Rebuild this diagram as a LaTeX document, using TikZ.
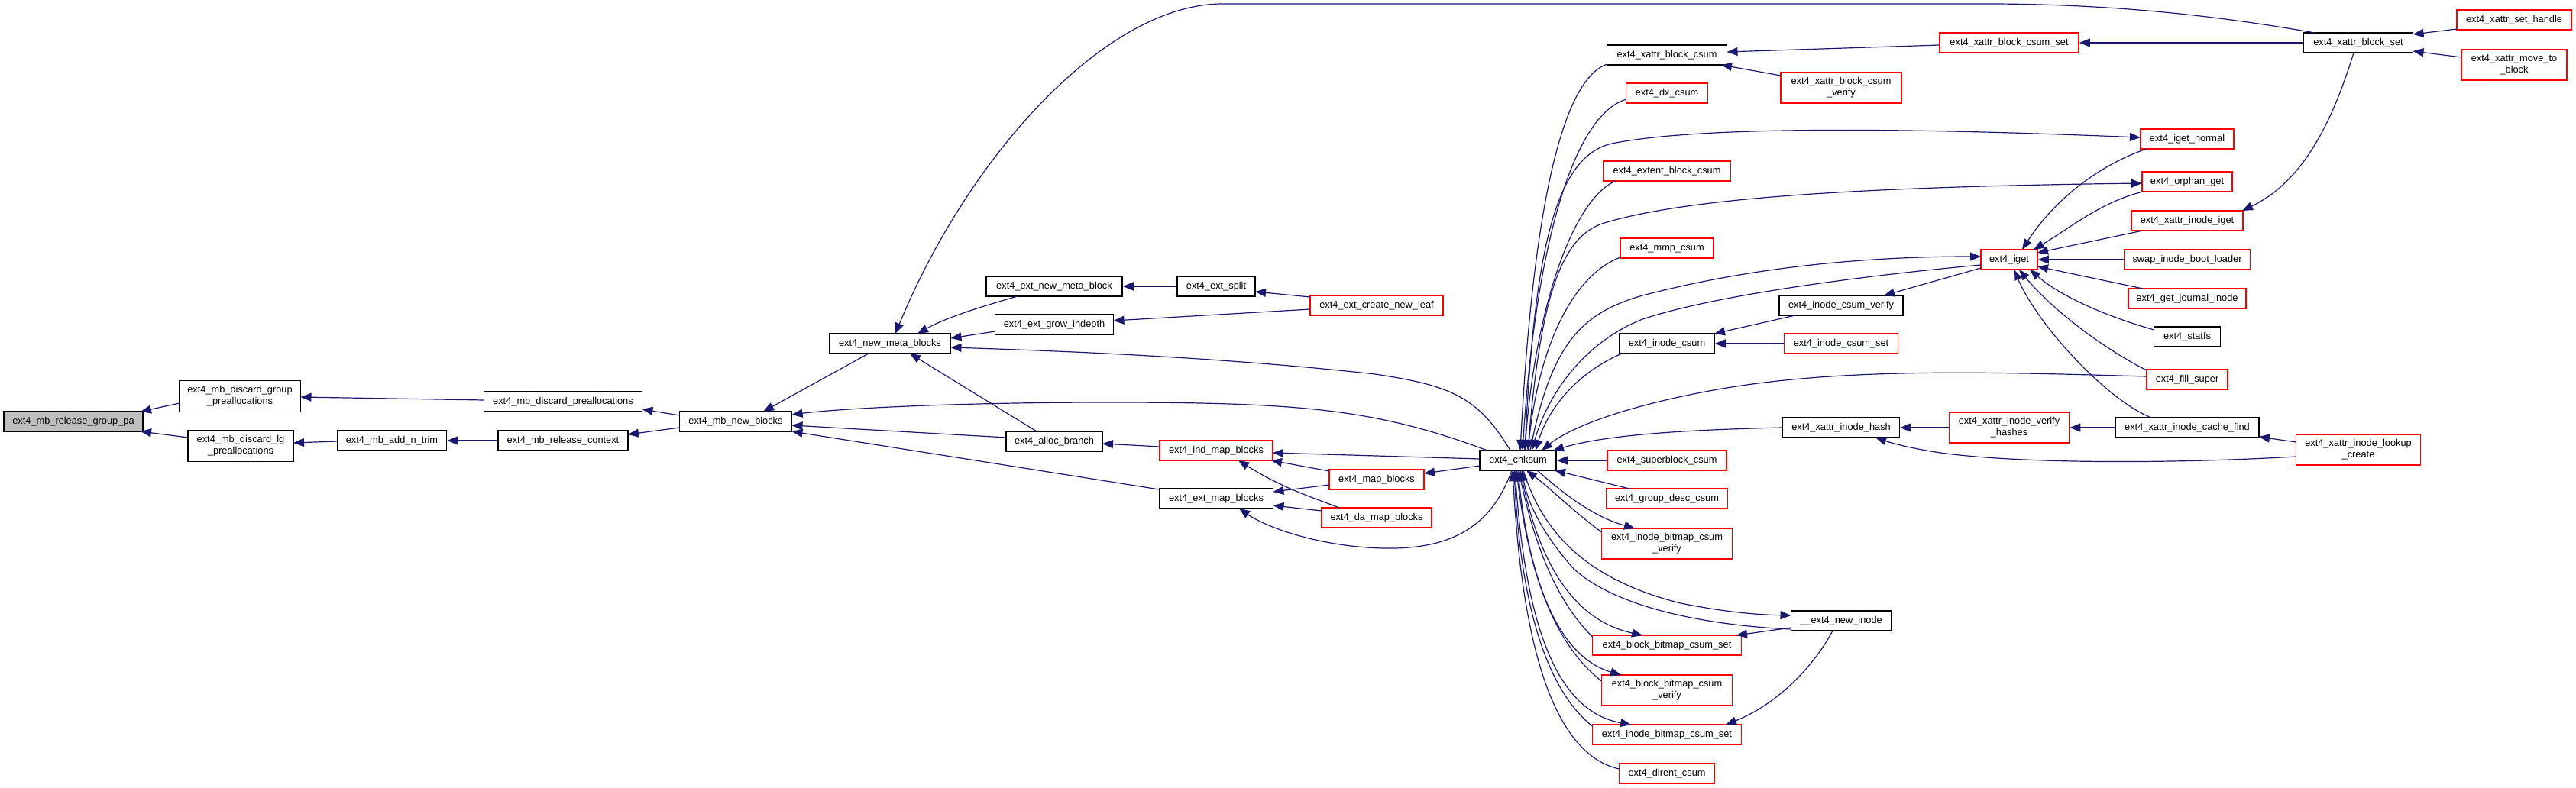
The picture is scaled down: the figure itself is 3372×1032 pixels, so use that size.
\documentclass[tikz,border=0pt]{standalone}
\usepackage{fontspec}
\setmainfont{Liberation Sans}
\usetikzlibrary{arrows.meta}
\definecolor{edgeblue}{HTML}{191970}
\definecolor{gfill}{HTML}{BFBFBF}
\definecolor{rborder}{HTML}{FF0000}
\newcommand{\fsz}{\fontsize{12.8}{15}\selectfont}
\tikzset{
  fn/.style={draw=black, line width=1.5pt, fill=white, inner sep=0pt, minimum height=26pt, align=center, font=\fsz},
  fnr/.style={fn, draw=rborder},
  ce/.style={draw=edgeblue, line width=1.2pt, -{Triangle[length=14pt,width=11pt,fill=edgeblue]}},
}
\begin{document}
\begin{tikzpicture}[x=1pt,y=-1pt]
\useasboundingbox (0,0) rectangle (3372,1032);
% nodes
\node[fn, fill=gfill, minimum width=182pt] (rgpa) at (96,552) {ext4\_mb\_release\_group\_pa};
\node[fn, minimum width=159pt, minimum height=41pt] (dgp) at (314,519) {ext4\_mb\_discard\_group\\\_preallocations};
\node[fn, minimum width=138pt, minimum height=41pt] (dlg) at (315,584) {ext4\_mb\_discard\_lg\\\_preallocations};
\node[fn, minimum width=143pt] (ant) at (513,577) {ext4\_mb\_add\_n\_trim};
\node[fn, minimum width=207pt] (dp) at (737,526) {ext4\_mb\_discard\_preallocations};
\node[fn, minimum width=170pt] (rc) at (737,577) {ext4\_mb\_release\_context};
\node[fn, minimum width=147pt] (nb) at (963,552) {ext4\_mb\_new\_blocks};
\node[fn, minimum width=159pt] (nmb) at (1165,450) {ext4\_new\_meta\_blocks};
\node[fn, minimum width=178pt] (enmb) at (1380,375) {ext4\_ext\_new\_meta\_block};
\node[fn, minimum width=102pt] (split) at (1592,375) {ext4\_ext\_split};
\node[fnr, minimum width=174pt] (cnl) at (1802,400) {ext4\_ext\_create\_new\_leaf};
\node[fn, minimum width=155pt] (gi) at (1380,425) {ext4\_ext\_grow\_indepth};
\node[fn, minimum width=126pt] (ab) at (1380,578) {ext4\_alloc\_branch};
\node[fnr, minimum width=148pt] (imb) at (1592,590) {ext4\_ind\_map\_blocks};
\node[fnr, minimum width=124pt] (mapb) at (1802,628) {ext4\_map\_blocks};
\node[fn, minimum width=149pt] (emb) at (1592,653) {ext4\_ext\_map\_blocks};
\node[fnr, minimum width=144pt] (damb) at (1802,678) {ext4\_da\_map\_blocks};
\node[fn, minimum width=100pt] (chk) at (1987,603) {ext4\_chksum};
\node[fn, minimum width=157pt] (xbc) at (2182,72) {ext4\_xattr\_block\_csum};
\node[fnr, minimum width=182pt] (xbcs) at (2630,56) {ext4\_xattr\_block\_csum\_set};
\node[fnr, minimum width=158pt, minimum height=40pt] (xbcv) at (2410,115) {ext4\_xattr\_block\_csum\\\_verify};
\node[fnr, minimum width=107pt] (dx) at (2182,122) {ext4\_dx\_csum};
\node[fnr, minimum width=167pt] (ebc) at (2182,224) {ext4\_extent\_block\_csum};
\node[fnr, minimum width=122pt] (mmp) at (2182,325) {ext4\_mmp\_csum};
\node[fnr, minimum width=74pt] (iget) at (2630,340) {ext4\_iget};
\node[fn, minimum width=162pt] (icv) at (2410,400) {ext4\_inode\_csum\_verify};
\node[fn, minimum width=124pt] (ic) at (2182,450) {ext4\_inode\_csum};
\node[fnr, minimum width=149pt] (ics) at (2410,450) {ext4\_inode\_csum\_set};
\node[fnr, minimum width=150pt] (xsh) at (3291,26) {ext4\_xattr\_set\_handle};
\node[fn, minimum width=143pt] (xbs) at (3087,56) {ext4\_xattr\_block\_set};
\node[fnr, minimum width=138pt, minimum height=40pt] (xmtb) at (3291,85) {ext4\_xattr\_move\_to\\\_block};
\node[fnr, minimum width=122pt] (ign) at (2863,182) {ext4\_iget\_normal};
\node[fnr, minimum width=118pt] (og) at (2863,238) {ext4\_orphan\_get};
\node[fnr, minimum width=146pt] (xii) at (2863,289) {ext4\_xattr\_inode\_iget};
\node[fnr, minimum width=165pt] (sibl) at (2863,340) {swap\_inode\_boot\_loader};
\node[fnr, minimum width=154pt] (gji) at (2863,391) {ext4\_get\_journal\_inode};
\node[fn, minimum width=87pt] (sf) at (2863,441) {ext4\_statfs};
\node[fnr, minimum width=106pt] (fs) at (2863,497) {ext4\_fill\_super};
\node[fn, minimum width=153pt] (xih) at (2410,560) {ext4\_xattr\_inode\_hash};
\node[fnr, minimum width=157pt, minimum height=40pt] (xivh) at (2630,560) {ext4\_xattr\_inode\_verify\\\_hashes};
\node[fn, minimum width=188pt] (xicf) at (2863,560) {ext4\_xattr\_inode\_cache\_find};
\node[fnr, minimum width=163pt, minimum height=40pt] (xilc) at (3087,589) {ext4\_xattr\_inode\_lookup\\\_create};
\node[fnr, minimum width=156pt] (sbc) at (2182,603) {ext4\_superblock\_csum};
\node[fnr, minimum width=159pt] (gdc) at (2182,653) {ext4\_group\_desc\_csum};
\node[fnr, minimum width=171pt, minimum height=40pt] (ibcv) at (2182,712) {ext4\_inode\_bitmap\_csum\\\_verify};
\node[fn, minimum width=131pt] (ni) at (2410,813) {\_\_ext4\_new\_inode};
\node[fnr, minimum width=195pt] (bbcs) at (2182,845) {ext4\_block\_bitmap\_csum\_set};
\node[fnr, minimum width=171pt, minimum height=40pt] (bbcv) at (2182,904) {ext4\_block\_bitmap\_csum\\\_verify};
\node[fnr, minimum width=195pt] (ibcs) at (2182,962) {ext4\_inode\_bitmap\_csum\_set};
\node[fnr, minimum width=125pt] (dc) at (2182,1013) {ext4\_dirent\_csum};
% left chain
\draw[ce] ([shift={(-79,9)}]dgp.center) -- ([shift={(88,-13)}]rgpa.center);
\draw[ce] ([shift={(-69,-11)}]dlg.center) -- ([shift={(88,13)}]rgpa.center);
\draw[ce] ([shift={(-103.5,-2)}]dp.center) -- ([shift={(79.5,1)}]dgp.center);
\draw[ce] ([shift={(-71.5,1)}]ant.center) -- ([shift={(69,-4)}]dlg.center);
\draw[ce] (rc.west) -- (ant.east);
\draw[ce] ([shift={(-73.5,-8)}]nb.center) -- ([shift={(103.5,10)}]dp.center);
\draw[ce] ([shift={(-73.5,8)}]nb.center) -- ([shift={(85,-8)}]rc.center);
\draw[ce] ([shift={(-28,13)}]nmb.center) -- ([shift={(36,-13)}]nb.center);
\draw[ce] ([shift={(-40,-13)}]chk.center) .. controls (1800,535) and (1700,527) .. (1450,527) .. controls (1250,527) and (1100,535) .. ([shift={(73.5,-9)}]nb.center);
\draw[ce] ([shift={(-63,-5)}]ab.center) -- ([shift={(73.5,5)}]nb.center);
\draw[ce] ([shift={(-74.5,-12)}]emb.center) -- ([shift={(73.5,13)}]nb.center);
\draw[ce] ([shift={(-57,-13)}]xbs.center) .. controls (2900,20) and (2760,5) .. (2600,5) -- (1600,5) .. controls (1450,5) and (1270,200) .. ([shift={(7,-13)}]nmb.center);
\draw[ce] ([shift={(-48,13)}]enmb.center) .. controls (1290,400) and (1240,415) .. ([shift={(36,-13)}]nmb.center);
\draw[ce] ([shift={(-77.5,9)}]gi.center) -- ([shift={(79.5,-7)}]nmb.center);
\draw[ce] ([shift={(-10,-13)}]chk.center) .. controls (1935,520) and (1900,505) .. (1800,490) .. controls (1600,468) and (1400,460) .. ([shift={(79.5,5)}]nmb.center);
\draw[ce] ([shift={(-23,-13)}]ab.center) -- ([shift={(26,13)}]nmb.center);
\draw[ce] (split.west) -- (enmb.east);
\draw[ce] ([shift={(-87,-11)}]cnl.center) -- ([shift={(51,7)}]split.center);
\draw[ce] ([shift={(-87,5)}]cnl.center) -- ([shift={(77.5,-5)}]gi.center);
\draw[ce] ([shift={(-74,-5)}]imb.center) -- ([shift={(63,3)}]ab.center);
\draw[ce] ([shift={(-50,-2)}]chk.center) -- ([shift={(74,3)}]imb.center);
\draw[ce] ([shift={(-62,-11)}]mapb.center) -- ([shift={(72,13)}]imb.center);
\draw[ce] ([shift={(-49,-13)}]damb.center) .. controls (1720,652) and (1680,640) .. ([shift={(29,13)}]imb.center);
\draw[ce] ([shift={(-50,7)}]chk.center) -- ([shift={(62,-8)}]mapb.center);
\draw[ce] ([shift={(-62,7)}]mapb.center) -- ([shift={(74.5,-9)}]emb.center);
\draw[ce] ([shift={(-72,-9)}]damb.center) -- ([shift={(74.5,9)}]emb.center);
\draw[ce] ([shift={(-8,13)}]chk.center) .. controls (1952,690) and (1900,720) .. (1810,718) .. controls (1730,716) and (1660,692) .. ([shift={(30,13)}]emb.center);
% into chk from upper right
\draw[ce] ([shift={(-78,12)}]xbc.center) .. controls (2040,105) and (2005,300) .. ([shift={(3,-13)}]chk.center);
\draw[ce] ([shift={(-53,8)}]dx.center) .. controls (2060,150) and (2010,320) .. ([shift={(6,-13)}]chk.center);
\draw[ce] ([shift={(9,-13)}]chk.center) .. controls (2008,330) and (2035,205) .. (2110,188) .. controls (2250,160) and (2600,172) .. ([shift={(-61,-2)}]ign.center);
\draw[ce] ([shift={(-67,13)}]ebc.center) .. controls (2060,260) and (2010,400) .. ([shift={(9,-13)}]chk.center);
\draw[ce] ([shift={(13,-13)}]chk.center) .. controls (2015,400) and (2040,310) .. (2100,292) .. controls (2200,262) and (2400,245) .. ([shift={(-59,2)}]og.center);
\draw[ce] ([shift={(-61,12)}]mmp.center) .. controls (2060,360) and (2015,450) .. ([shift={(13,-13)}]chk.center);
\draw[ce] ([shift={(16,-13)}]chk.center) .. controls (2030,450) and (2070,410) .. (2150,387) .. controls (2300,348) and (2450,336) .. ([shift={(-37,-4)}]iget.center);
\draw[ce] ([shift={(-37,7)}]iget.center) .. controls (2450,360) and (2250,385) .. (2150,418) .. controls (2070,450) and (2025,520) .. ([shift={(18,-13)}]chk.center);
\draw[ce] ([shift={(-59,13)}]ic.center) .. controls (2060,490) and (2025,540) .. ([shift={(23,-13)}]chk.center);
\draw[ce] ([shift={(-53,-4)}]fs.center) .. controls (2600,487) and (2420,482) .. (2260,508) .. controls (2130,530) and (2055,560) .. ([shift={(31,-13)}]chk.center);
\draw[ce] ([shift={(-76.5,0)}]xih.center) .. controls (2200,563) and (2100,570) .. ([shift={(46,-13)}]chk.center);
\draw[ce] (sbc.west) -- (chk.east);
\draw[ce] ([shift={(-49,-13)}]gdc.center) -- ([shift={(48,13)}]chk.center);
% below chk
\draw[ce] ([shift={(25,13)}]chk.center) .. controls (2040,640) and (2080,675) .. ([shift={(-42,-20)}]ibcv.center);
\draw[ce] ([shift={(-85.5,-15)}]ibcv.center) .. controls (2060,670) and (2030,640) .. ([shift={(11,13)}]chk.center);
\draw[ce] ([shift={(7,13)}]chk.center) .. controls (2020,700) and (2080,760) .. (2200,790) .. controls (2260,802) and (2300,805) .. ([shift={(-65.5,-7)}]ni.center);
\draw[ce] ([shift={(-65.5,11)}]ni.center) .. controls (2250,820) and (2120,800) .. (2060,745) .. controls (2020,700) and (2000,660) .. ([shift={(5,13)}]chk.center);
\draw[ce] ([shift={(3,13)}]chk.center) .. controls (2010,720) and (2050,810) .. ([shift={(-32,-13)}]bbcs.center);
\draw[ce] ([shift={(-97.5,-11)}]bbcs.center) .. controls (2040,790) and (2010,720) .. ([shift={(1,13)}]chk.center);
\draw[ce] ([shift={(0,13)}]chk.center) .. controls (2000,760) and (2040,860) .. ([shift={(-60,-20)}]bbcv.center);
\draw[ce] ([shift={(-85.5,-12)}]bbcv.center) .. controls (2030,840) and (2000,740) .. ([shift={(-2,13)}]chk.center);
\draw[ce] ([shift={(-4,13)}]chk.center) .. controls (1995,800) and (2030,930) .. ([shift={(-47,-13)}]ibcs.center);
\draw[ce] ([shift={(-97.5,-11)}]ibcs.center) .. controls (2020,900) and (1990,780) .. ([shift={(-5,13)}]chk.center);
\draw[ce] ([shift={(-62.5,-6)}]dc.center) .. controls (2020,985) and (1990,800) .. ([shift={(-7,13)}]chk.center);
\draw[ce] ([shift={(-65.5,9)}]ni.center) -- ([shift={(91,-13)}]bbcs.center);
\draw[ce] ([shift={(-11,13)}]ni.center) .. controls (2370,880) and (2320,925) .. ([shift={(77,-13)}]ibcs.center);
% right side
\draw[ce] ([shift={(-91,3)}]xbcs.center) -- ([shift={(78.5,-4)}]xbc.center);
\draw[ce] ([shift={(-79,-16)}]xbcv.center) -- ([shift={(71,13)}]xbc.center);
\draw[ce] (xbs.west) -- (xbcs.east);
\draw[ce] ([shift={(-75,12)}]xsh.center) -- ([shift={(71.5,-11)}]xbs.center);
\draw[ce] ([shift={(-69,-10)}]xmtb.center) -- ([shift={(71.5,11)}]xbs.center);
\draw[ce] ([shift={(-6,13)}]xbs.center) .. controls (3050,170) and (3010,240) .. ([shift={(72,-13)}]xii.center);
\draw[ce] ([shift={(-53,13)}]ign.center) .. controls (2750,215) and (2690,260) .. ([shift={(17,-13)}]iget.center);
\draw[ce] ([shift={(-58,13)}]og.center) .. controls (2750,265) and (2715,295) .. ([shift={(32,-13)}]iget.center);
\draw[ce] ([shift={(-58,13)}]xii.center) -- ([shift={(37,-9)}]iget.center);
\draw[ce] (sibl.west) -- (iget.east);
\draw[ce] ([shift={(-58,-13)}]gji.center) -- ([shift={(37,9)}]iget.center);
\draw[ce] ([shift={(-43.5,-9)}]sf.center) .. controls (2760,415) and (2700,390) .. ([shift={(27,13)}]iget.center);
\draw[ce] ([shift={(-53,-12)}]fs.center) .. controls (2760,460) and (2690,410) .. ([shift={(13,13)}]iget.center);
\draw[ce] ([shift={(-47,-13)}]xicf.center) .. controls (2760,525) and (2670,430) .. ([shift={(6,13)}]iget.center);
\draw[ce] ([shift={(-37,11)}]iget.center) -- ([shift={(56,-13)}]icv.center);
\draw[ce] ([shift={(-60,13)}]icv.center) -- ([shift={(62,-13)}]ic.center);
\draw[ce] (ics.west) -- (ic.east);
\draw[ce] (xivh.west) -- (xih.east);
\draw[ce] (xicf.west) -- (xivh.east);
\draw[ce] ([shift={(-81.5,-10)}]xilc.center) -- ([shift={(94,12)}]xicf.center);
\draw[ce] ([shift={(-81.5,9)}]xilc.center) .. controls (2850,607) and (2650,608) .. (2540,593) .. controls (2500,587) and (2475,580) .. ([shift={(45,13)}]xih.center);
\end{tikzpicture}
\end{document}
